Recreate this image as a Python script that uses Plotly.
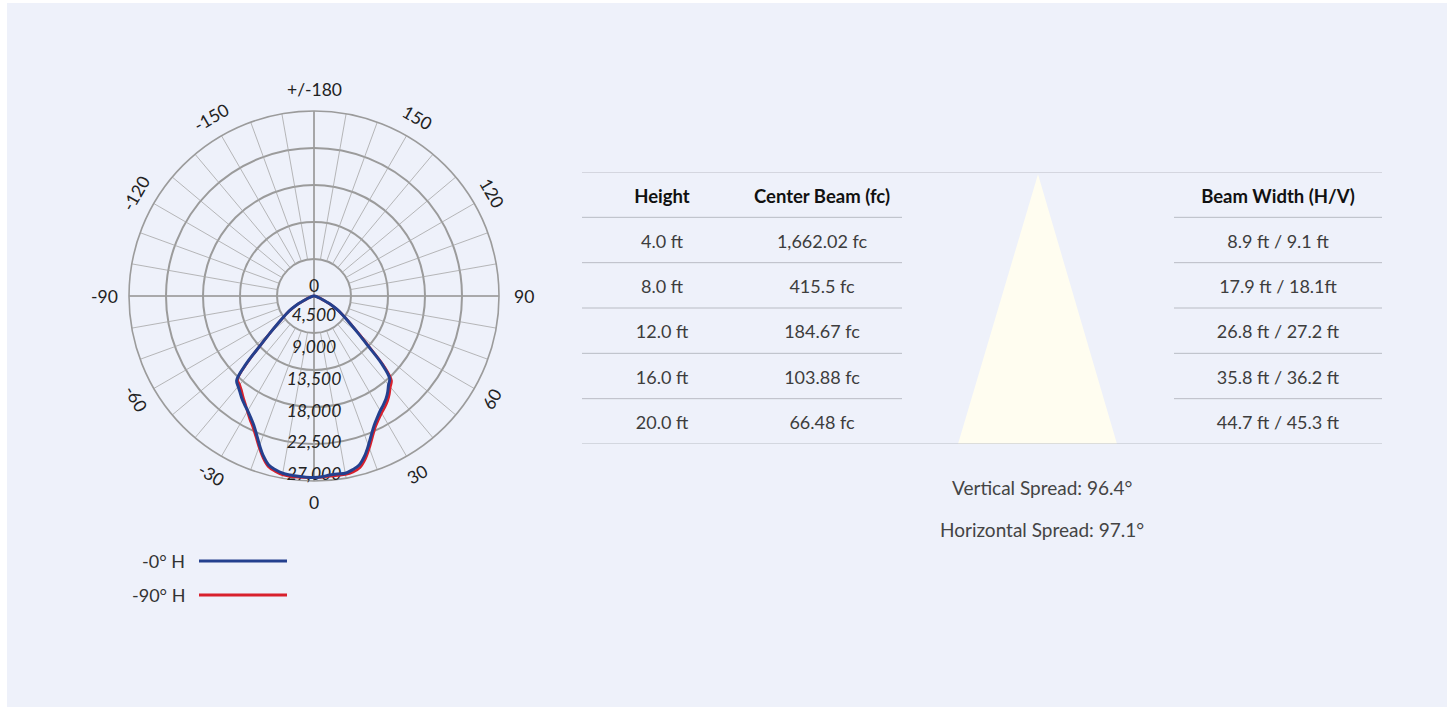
import math
import plotly.graph_objects as go

# photometric curve data (candela), angle 0 = nadir
theta_deg = [-90, -85, -80, -75, -70, -65, -62.5, -60, -57.5, -55, -52.5, -50, -47.5, -45,
             -42.5, -40, -37.5, -35, -32.5, -30, -27.5, -25, -22.5, -20, -17.5, -15, -12.5,
             -10, -7.5, -5, -2.5, 0, 2.5, 5, 7.5, 10, 12.5, 15, 17.5, 20, 22.5, 25, 27.5, 30,
             32.5, 35, 37.5, 40, 42.5, 45, 47.5, 50, 52.5, 55, 57.5, 60, 62.5, 65, 70, 75,
             80, 85, 90]
cd_0h = [0, 70, 220, 450, 970, 1930, 2970, 3860, 4760, 5650, 6840, 8470, 10700, 14270,
         17020, 17540, 18060, 18660, 19180, 19700, 20370, 21180, 22300, 23640, 24970, 26010, 26460,
         26760, 26840, 26910, 26960, 26980, 26900, 26720, 26690, 26760, 26460, 26010, 24970, 23640, 22300, 21180, 20370, 19700,
         19180, 18660, 18000, 17240, 16650, 14270, 10700, 8470, 6840, 5650, 4760, 3860, 2970, 1930, 970, 450,
         220, 70, 0]
cd_90h = [0, 70, 220, 450, 970, 1930, 2970, 3860, 4760, 5650, 6840, 8470, 10700, 14000,
          16800, 17200, 17700, 18350, 19000, 19800, 20650, 21500, 22600, 23900, 25200, 26250, 26700,
          26980, 27050, 27050, 27000, 26980, 26950, 26900, 26900, 26950, 26800, 26400, 25400, 24050, 22700, 21550, 20750, 20100,
          19600, 19050, 18400, 17650, 17050, 14650, 11000, 8700, 6950, 5700, 4760, 3860, 2970, 1930, 970, 450,
          220, 70, 0]

series_names = ["-0° H", "-90° H"]
series_colors = ["#24408e", "#d8202c"]

radial_labels = [4500, 9000, 13500, 18000, 22500, 27000]
angle_ticks = [0, 30, 60, 90, 120, 150, 180, -150, -120, -90, -60, -30]
angle_text = ["0", "30", "60", "90", "120", "150", "+/-180", "-150", "-120", "-90", "-60", "-30"]

# table data
heights = ["4.0 ft", "8.0 ft", "12.0 ft", "16.0 ft", "20.0 ft"]
center_beam = ["1,662.02 fc", "415.5 fc", "184.67 fc", "103.88 fc", "66.48 fc"]
beam_width = ["8.9 ft / 9.1 ft", "17.9 ft / 18.1ft", "26.8 ft / 27.2 ft", "35.8 ft / 36.2 ft", "44.7 ft / 45.3 ft"]
headers = ["Height", "Center Beam (fc)", "Beam Width (H/V)"]
spreads = ["Vertical Spread: 96.4°", "Horizontal Spread: 97.1°"]

W, H = 1450, 707
R_MAX = 27500
FONT = "Lato"
BG = "#eef1fa"
GRID = "#9b9b9b"

fig = go.Figure()

# grid: spokes every 10 degrees (main cross goes to the centre)
sr, st = [], []
for a in range(0, 360, 10):
    r0 = 0 if a % 90 == 0 else R_MAX / 5
    sr += [r0, R_MAX, None]
    st += [a, a, None]
fig.add_trace(go.Scatterpolar(r=sr, theta=st, mode="lines", subplot="polar",
                              line=dict(color="#a6a6a6", width=0.8),
                              hoverinfo="skip", showlegend=False))
cr, ct = [], []
for a in [0, 90, 180, 270]:
    cr += [0, R_MAX, None]
    ct += [a, a, None]
fig.add_trace(go.Scatterpolar(r=cr, theta=ct, mode="lines", subplot="polar",
                              line=dict(color=GRID, width=1.6),
                              hoverinfo="skip", showlegend=False))
fig.add_trace(go.Scatterpolar(r=[0], theta=[0], mode="text", text=["0"], textposition="top center",
                              subplot="polar", textfont=dict(family=FONT, size=17.5, color="#222222"),
                              hoverinfo="skip", showlegend=False))

# radial value labels on their own label scale, above the grid
fig.add_trace(go.Scatterpolar(
    r=radial_labels, theta=[0] * len(radial_labels), mode="text", subplot="polar2",
    text=[f"{v:,}" for v in radial_labels], textposition="middle center",
    textfont=dict(family=FONT, size=17.5, color="#222222", style="italic"),
    hoverinfo="skip", showlegend=False))

# curves on top
fig.add_trace(go.Scatterpolar(r=cd_90h, theta=theta_deg, mode="lines", name=series_names[1], subplot="polar3",
                              line=dict(color=series_colors[1], width=2.6, shape="spline"), showlegend=False))
fig.add_trace(go.Scatterpolar(r=cd_0h, theta=theta_deg, mode="lines", name=series_names[0], subplot="polar3",
                              line=dict(color=series_colors[0], width=3, shape="spline"), showlegend=False))

cx, cy, rad = 314, 296, 185
dom = dict(x=[(cx - rad) / W, (cx + rad) / W], y=[1 - (cy + rad) / H, 1 - (cy - rad) / H])
hidden_ang = dict(rotation=-90, direction="counterclockwise", visible=False)
fig.update_layout(
    polar=dict(
        domain=dom, bgcolor="rgba(0,0,0,0)",
        radialaxis=dict(range=[0, R_MAX], tickvals=[R_MAX / 5 * k for k in range(1, 5)],
                        showticklabels=False, ticks="", showline=False,
                        gridcolor=GRID, gridwidth=1.5),
        angularaxis=dict(rotation=-90, direction="counterclockwise", showticklabels=False,
                         showgrid=False, ticks="", showline=True, linecolor=GRID, linewidth=1.6),
    ),
    polar2=dict(domain=dom, bgcolor="rgba(0,0,0,0)",
                radialaxis=dict(range=[1555, 27735], visible=False), angularaxis=hidden_ang),
    polar3=dict(domain=dom, bgcolor="rgba(0,0,0,0)",
                radialaxis=dict(range=[0, R_MAX], visible=False), angularaxis=hidden_ang),
)

# table as a cartesian panel
fig.add_trace(go.Scatter(x=[662, 822, 1278], y=[0.59] * 3, mode="text", text=headers,
                         textfont=dict(family=FONT, size=18.5, color="#111111", weight="bold"),
                         xaxis="x", yaxis="y", hoverinfo="skip", showlegend=False))
rows_y = [i + 1.57 for i in range(len(heights))]
for xc, col in [(662, heights), (822, center_beam), (1278, beam_width)]:
    fig.add_trace(go.Scatter(x=[xc] * len(col), y=rows_y, mode="text", text=col,
                             textfont=dict(family=FONT, size=18, color="#3d3d3d"),
                             xaxis="x", yaxis="y", hoverinfo="skip", showlegend=False))

shapes = [dict(type="rect", xref="paper", yref="paper", x0=7 / W, x1=1447 / W, y0=0, y1=1 - 3 / H,
               fillcolor=BG, line_width=0, layer="below")]
# beam cone
shapes.append(dict(type="path", xref="x", yref="y", path="M 1038 0.05 L 958 6 L 1117 6 Z",
                   fillcolor="#fffdf0", line_width=0, layer="below"))
line_col = "#b9bcc4"
for yv in [0, 6]:
    shapes.append(dict(type="line", xref="x", yref="y", x0=582, x1=1382, y0=yv, y1=yv,
                       line=dict(color=line_col, width=1)))
for yv in range(1, 6):
    for xa, xb in [(582, 902), (1174, 1382)]:
        shapes.append(dict(type="line", xref="x", yref="y", x0=xa, x1=xb, y0=yv, y1=yv,
                           line=dict(color=line_col, width=1)))

annotations = []
# angular tick labels, rotated along the circle
for a, t in zip(angle_ticks, angle_text):
    rr = 210 if abs(a) == 90 else 206
    px = cx + rr * math.sin(math.radians(a))
    py = cy + rr * math.cos(math.radians(a))
    if abs(a) in (0, 90, 180):
        ang = 0
    elif abs(a) < 90:
        ang = -a
    else:
        ang = 180 - a if a > 0 else -180 - a
    annotations.append(dict(x=px / W, y=1 - py / H, xref="paper", yref="paper", text=t,
                            showarrow=False, xanchor="center", yanchor="middle", textangle=ang,
                            font=dict(family=FONT, size=17.5, color="#222222")))

# legend: label on the left, line on the right
for i, (nm, col) in enumerate(zip(series_names, series_colors)):
    yp = 561 + 34 * i
    annotations.append(dict(x=187 / W, y=1 - yp / H, xref="paper", yref="paper", text=nm,
                            showarrow=False, xanchor="right", yanchor="middle",
                            font=dict(family=FONT, size=18, color="#333333")))
    shapes.append(dict(type="line", xref="paper", yref="paper", x0=199 / W, x1=287 / W,
                       y0=1 - yp / H, y1=1 - yp / H, line=dict(color=col, width=3)))

for i, s in enumerate(spreads):
    annotations.append(dict(x=1042 / W, y=1 - (487 + 42 * i) / H, xref="paper", yref="paper", text=s,
                            showarrow=False, xanchor="center", yanchor="middle",
                            font=dict(family=FONT, size=19, color="#444444")))

fig.update_layout(
    width=W, height=H,
    margin=dict(l=0, r=0, t=0, b=0),
    paper_bgcolor="white",
    plot_bgcolor="rgba(0,0,0,0)",
    xaxis=dict(domain=[582 / W, 1382 / W], range=[582, 1382], visible=False, fixedrange=True),
    yaxis=dict(domain=[1 - 444 / H, 1 - 172 / H], range=[6, 0], visible=False, fixedrange=True),
    shapes=shapes,
    annotations=annotations,
    showlegend=False,
)

fig.write_html("out.html", config={"displayModeBar": False},
               post_script="document.body.style.margin = '0px';")
